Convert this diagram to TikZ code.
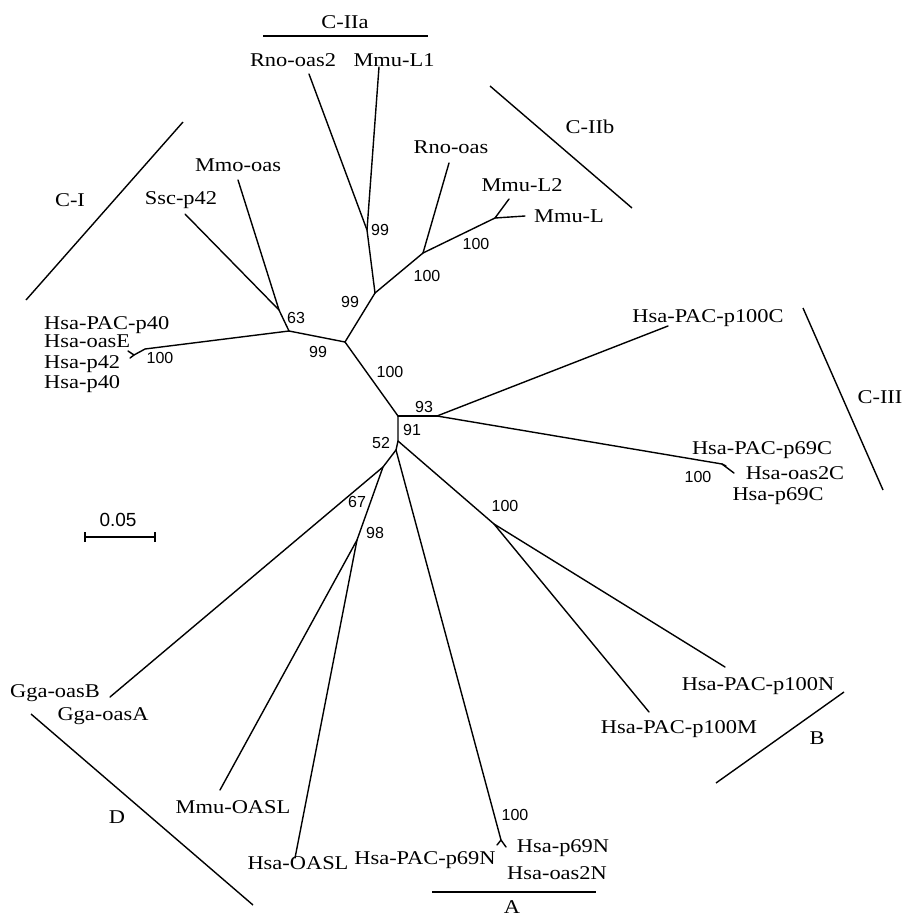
\documentclass[tikz,border=0pt]{standalone}
\usepackage{fontspec}
\setmainfont{Liberation Serif}
\newfontfamily\bsfam{Liberation Sans}
\newcommand\wide[1]{\scalebox{1.15}[1]{#1}}
\tikzset{
  lab/.style={font=\fontsize{19.5}{22}\selectfont, inner sep=0pt, text height=13pt, text depth=0pt},
  bs/.style={font=\bsfam\fontsize{16}{18}\selectfont, inner sep=0pt},
  br/.style={line width=1.4pt, line cap=round, line join=round},
  grp/.style={line width=1.4pt},
}
\begin{document}
\begin{tikzpicture}[x=1pt,y=-1pt]
\useasboundingbox (0,0) rectangle (904,916);
% internal nodes
\coordinate (c0) at (398,416);
\coordinate (c93) at (437,416);
\coordinate (c91) at (398,441);
\coordinate (c52) at (396,450);
\coordinate (c67) at (383,467);
\coordinate (c98) at (357,540);
\coordinate (cP) at (494,524);
\coordinate (cR) at (345,342);
\coordinate (cL) at (289,331);
\coordinate (c63) at (279,310);
\coordinate (cT) at (375,293);
\coordinate (cA) at (367,230);
\coordinate (cB) at (423,253);
\coordinate (cC) at (495,218);
% tips
\coordinate (tRno2) at (309,74);
\coordinate (tMmuL1) at (379,67);
\coordinate (tRno) at (449,163);
\coordinate (tMmuL2) at (509,199);
\coordinate (tMmuL) at (525,216);
\coordinate (tMmo) at (238,180);
\coordinate (tSsc) at (185,214);
\coordinate (f40) at (145,349);
\coordinate (g40) at (134,355);
\coordinate (t40a) at (128,351);
\coordinate (t40b) at (130,358);
\coordinate (t100C) at (668,326);
\coordinate (f69C) at (722,464);
\coordinate (t69Ca) at (734,473);
\coordinate (t69Cb) at (726,466);
\coordinate (t100N) at (725,667);
\coordinate (t100M) at (649,712);
\coordinate (f69N) at (501,840);
\coordinate (t69Na) at (497,845);
\coordinate (t69Nb) at (506,847);
\coordinate (tGga) at (110,697);
\coordinate (tMOASL) at (220,790);
\coordinate (tHOASL) at (295,858);

% branches
\draw[br] (c0) -- (c93);
\draw[br] (c0) -- (c91) -- (c52);
\draw[br] (c0) -- (cR) -- (cL) -- (c63) -- (tMmo);
\draw[br] (c63) -- (tSsc);
\draw[br] (cL) -- (f40) -- (g40) -- (t40a);
\draw[br] (g40) -- (t40b);
\draw[br] (cR) -- (cT) -- (cA) -- (tRno2);
\draw[br] (cA) -- (tMmuL1);
\draw[br] (cT) -- (cB) -- (tRno);
\draw[br] (cB) -- (cC) -- (tMmuL2);
\draw[br] (cC) -- (tMmuL);
\draw[br] (c93) -- (t100C);
\draw[br] (c93) -- (f69C) -- (t69Ca);
\draw[br] (f69C) -- (t69Cb);
\draw[br] (c91) -- (cP) -- (t100N);
\draw[br] (cP) -- (t100M);
\draw[br] (c52) -- (f69N) -- (t69Na);
\draw[br] (f69N) -- (t69Nb);
\draw[br] (c52) -- (c67) -- (tGga);
\draw[br] (c67) -- (c98) -- (tMOASL);
\draw[br] (c98) -- (tHOASL);

% group bars
\coordinate (gIIa1) at (263,36); \coordinate (gIIa2) at (428,36);
\coordinate (gIIb1) at (490,86); \coordinate (gIIb2) at (632,208);
\coordinate (gI1) at (183,122); \coordinate (gI2) at (26,300);
\coordinate (gIII1) at (803,308); \coordinate (gIII2) at (883,490);
\coordinate (gB1) at (716,783); \coordinate (gB2) at (844,692);
\coordinate (gA1) at (432,892); \coordinate (gA2) at (596,892);
\coordinate (gD1) at (31,714); \coordinate (gD2) at (253,905);
\draw[grp] (gIIa1) -- (gIIa2);
\draw[grp] (gIIb1) -- (gIIb2);
\draw[grp] (gI1) -- (gI2);
\draw[grp] (gIII1) -- (gIII2);
\draw[grp] (gB1) -- (gB2);
\draw[grp] (gA1) -- (gA2);
\draw[grp] (gD1) -- (gD2);

% scale bar
\coordinate (s1) at (85,537); \coordinate (s2) at (155,537);
\draw[grp] (s1) -- (s2);
\draw[grp] ([yshift=-5pt]s1) -- ([yshift=5pt]s1);
\draw[grp] ([yshift=-5pt]s2) -- ([yshift=5pt]s2);
\node[bs, font=\bsfam\fontsize{19}{21}\selectfont] (scl) at (118,520) {0.05};

% group labels
\node[lab] (LIIa) at (345,22) {\wide{C-IIa}};
\node[lab] (LIIb) at (590,127) {\wide{C-IIb}};
\node[lab] (LI) at (70,200) {\wide{C-I}};
\node[lab] (LIII) at (880,397) {\wide{C-III}};
\node[lab] (LB) at (817,738) {\wide{B}};
\node[lab] (LA) at (512,907) {\wide{A}};
\node[lab] (LD) at (117,817) {\wide{D}};

% leaf labels
\node[lab] (nRno2) at (293,60) {\wide{Rno-oas2}};
\node[lab] (nMmuL1) at (394,60) {\wide{Mmu-L1}};
\node[lab] (nRno) at (451,147) {\wide{Rno-oas}};
\node[lab] (nMmuL2) at (522,185) {\wide{Mmu-L2}};
\node[lab] (nMmuL) at (569,216) {\wide{Mmu-L}};
\node[lab] (nMmo) at (238,165) {\wide{Mmo-oas}};
\node[lab] (nSsc) at (181,198) {\wide{Ssc-p42}};
\node[lab, anchor=base west] (nH40a) at (44,329) {\wide{Hsa-PAC-p40}};
\node[lab, anchor=base west] (nH40b) at (44,347) {\wide{Hsa-oasE}};
\node[lab, anchor=base west] (nH40c) at (44,368) {\wide{Hsa-p42}};
\node[lab, anchor=base west] (nH40d) at (44,388) {\wide{Hsa-p40}};
\node[lab] (n100C) at (708,316) {\wide{Hsa-PAC-p100C}};
\node[lab] (n69Ca) at (762,448) {\wide{Hsa-PAC-p69C}};
\node[lab] (n69Cb) at (795,473) {\wide{Hsa-oas2C}};
\node[lab] (n69Cc) at (778,494) {\wide{Hsa-p69C}};
\node[lab] (n100N) at (758,684) {\wide{Hsa-PAC-p100N}};
\node[lab] (n100M) at (679,727) {\wide{Hsa-PAC-p100M}};
\node[lab] (nGgaB) at (55,691) {\wide{Gga-oasB}};
\node[lab] (nGgaA) at (103,714) {\wide{Gga-oasA}};
\node[lab] (nMOASL) at (233,807) {\wide{Mmu-OASL}};
\node[lab] (nHOASL) at (298,863) {\wide{Hsa-OASL}};
\node[lab] (n69Na) at (425,858) {\wide{Hsa-PAC-p69N}};
\node[lab] (n69Nb) at (563,846) {\wide{Hsa-p69N}};
\node[lab] (n69Nc) at (557,873) {\wide{Hsa-oas2N}};

% bootstrap values
\node[bs] (b63) at (296,318) {63};
\node[bs] (b99a) at (318,352) {99};
\node[bs] (b99b) at (350,302) {99};
\node[bs] (b100a) at (390,372) {100};
\node[bs] (b99c) at (380,230) {99};
\node[bs] (b100b) at (476,244) {100};
\node[bs] (b100c) at (427,276) {100};
\node[bs] (b100d) at (160,358) {100};
\node[bs] (b93) at (424,407) {93};
\node[bs] (b91) at (412,430) {91};
\node[bs] (b52) at (381,443) {52};
\node[bs] (b67) at (357,502) {67};
\node[bs] (b98) at (375,533) {98};
\node[bs] (b100e) at (505,506) {100};
\node[bs] (b100f) at (515,815) {100};
\node[bs] (b100g) at (698,477) {100};
\end{tikzpicture}
\end{document}
